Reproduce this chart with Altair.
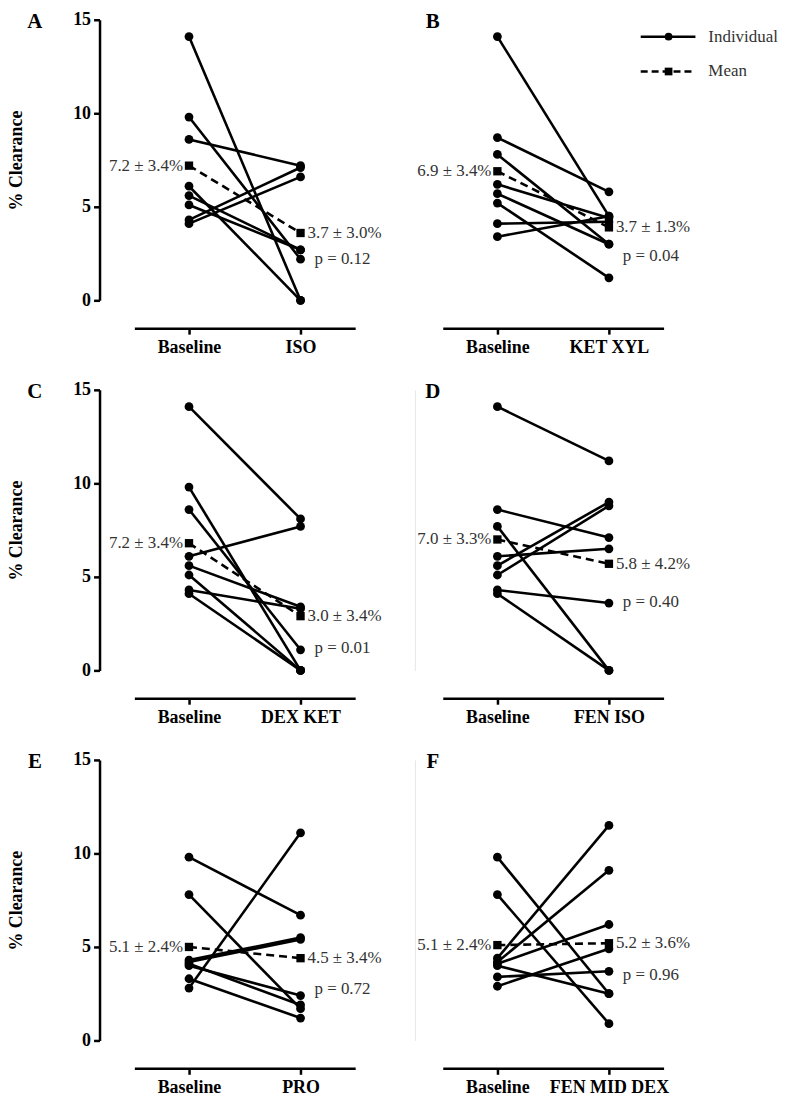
import altair as alt
import pandas as pd

panel_letters = ["A", "B", "C", "D", "E", "F"]
post_names = ["ISO", "KET XYL", "DEX KET", "FEN ISO", "PRO", "FEN MID DEX"]

base_A = [14.1, 9.8, 8.6, 6.1, 5.6, 5.1, 4.3, 4.1]
post_A = [0.0, 2.2, 7.2, 0.0, 2.7, 2.7, 7.1, 6.6]
base_B = [14.1, 8.7, 7.8, 6.2, 5.7, 5.2, 4.1, 3.4]
post_B = [4.5, 5.8, 3.0, 4.4, 3.0, 1.2, 4.2, 4.5]
base_C = [14.1, 9.8, 8.6, 6.1, 5.6, 5.1, 4.3, 4.1]
post_C = [8.1, 0.0, 1.1, 7.7, 3.4, 0.0, 3.3, 0.0]
base_D = [14.1, 8.6, 7.7, 6.1, 5.6, 5.1, 4.3, 4.1]
post_D = [11.2, 7.1, 0.0, 6.5, 9.0, 8.8, 3.6, 0.0]
base_E = [9.8, 7.8, 4.3, 4.2, 4.1, 4.0, 3.3, 2.8]
post_E = [6.7, 1.7, 5.5, 5.4, 1.9, 2.4, 1.2, 11.1]
base_F = [9.8, 7.8, 4.4, 4.2, 4.1, 4.0, 3.4, 2.9]
post_F = [2.5, 0.9, 11.5, 9.1, 6.2, 2.5, 3.7, 4.9]

bases = [base_A, base_B, base_C, base_D, base_E, base_F]
posts = [post_A, post_B, post_C, post_D, post_E, post_F]

mean_pre = [7.2, 6.9, 6.8, 7.0, 5.0, 5.1]
mean_post = [3.6, 3.9, 2.9, 5.7, 4.4, 5.2]
pre_labels = ["7.2 ± 3.4%", "6.9 ± 3.4%", "7.2 ± 3.4%", "7.0 ± 3.3%", "5.1 ± 2.4%", "5.1 ± 2.4%"]
post_labels = ["3.7 ± 3.0%", "3.7 ± 1.3%", "3.0 ± 3.4%", "5.8 ± 4.2%", "4.5 ± 3.4%", "5.2 ± 3.6%"]
p_labels = ["p = 0.12", "p = 0.04", "p = 0.01", "p = 0.40", "p = 0.72", "p = 0.96"]
y_ticks = [0, 5, 10, 15]
legend_labels = ["Individual", "Mean"]

SERIF = "Liberation Serif"
W, H = 222, 282
p_dy = [26, 29, 32, 38, 31, 32]


def panel(i):
    pname = post_names[i]
    rows = []
    for s, (b, p) in enumerate(zip(bases[i], posts[i])):
        rows.append({"subj": s, "cond": "Baseline", "v": b})
        rows.append({"subj": s, "cond": pname, "v": p})
    ind = pd.DataFrame(rows)
    mean = pd.DataFrame([
        {"cond": "Baseline", "v": mean_pre[i], "lab": pre_labels[i], "p": ""},
        {"cond": pname, "v": mean_post[i], "lab": post_labels[i], "p": p_labels[i]},
    ])

    xaxis = alt.Axis(title=None, offset=28, domainWidth=2.5, domainColor="black",
                     tickWidth=2.5, tickSize=6, tickColor="black", labelAngle=0,
                     labelFont=SERIF, labelFontSize=18, labelFontWeight="bold",
                     labelColor="black", labelPadding=4, grid=False)
    if i % 2 == 0:
        yaxis = alt.Axis(values=y_ticks, offset=35, domainWidth=2.5, domainColor="black",
                         tickWidth=2.5, tickSize=6, tickColor="black",
                         labelFont=SERIF, labelFontSize=18, labelFontWeight="bold",
                         labelColor="black", labelPadding=3, grid=False,
                         title="% Clearance", titleFont=SERIF, titleFontSize=18,
                         titleFontWeight="bold", titleColor="black", titlePadding=47)
    elif i == 1:
        yaxis = None
    else:
        yaxis = alt.Axis(labels=False, ticks=False, title=None, offset=28,
                         domainColor="#e6e6e6", domainWidth=1, grid=False)

    xenc = alt.X("cond:N", sort=["Baseline", pname],
                 scale=alt.Scale(type="point", padding=0.49), axis=xaxis)
    yenc = alt.Y("v:Q", scale=alt.Scale(domain=[0, 15], nice=False), axis=yaxis)

    lines = alt.Chart(ind).mark_line(color="black", strokeWidth=2.6).encode(
        x=xenc, y=yenc, detail="subj:N")
    pts = alt.Chart(ind).mark_point(filled=True, shape="circle", size=78,
                                    color="black", opacity=1).encode(x=xenc, y=yenc)
    mline = alt.Chart(mean).mark_line(color="black", strokeWidth=2.6,
                                      strokeDash=[8, 5]).encode(x=xenc, y=yenc)
    msq = alt.Chart(mean).mark_point(filled=True, shape="square", size=70,
                                     color="black", opacity=1).encode(x=xenc, y=yenc)
    pre_t = alt.Chart(mean).transform_filter(alt.datum.cond == "Baseline").mark_text(
        align="right", baseline="middle", dx=-6, font=SERIF, fontSize=17,
        color="#333333").encode(x=xenc, y=yenc, text="lab:N")
    post_t = alt.Chart(mean).transform_filter(alt.datum.cond != "Baseline").mark_text(
        align="left", baseline="middle", dx=7, font=SERIF, fontSize=17,
        color="#333333").encode(x=xenc, y=yenc, text="lab:N")
    p_t = alt.Chart(mean).transform_filter(alt.datum.cond != "Baseline").mark_text(
        align="left", baseline="middle", dx=14, dy=p_dy[i], font=SERIF, fontSize=17,
        color="#333333").encode(x=xenc, y=yenc, text="p:N")
    one = pd.DataFrame({"k": [0]})
    letter_x = -100 if i % 2 == 0 else -10
    letter = alt.Chart(one).mark_text(
        text=panel_letters[i], align="center", baseline="middle", font=SERIF,
        fontSize=21, fontWeight="bold", color="black").encode(
        x=alt.value(letter_x), y=alt.value(2))

    layers = [lines, pts, mline, msq, pre_t, post_t, p_t, letter]

    if i == 1:
        leg = pd.DataFrame({"lab": legend_labels, "row": [0, 1]})
        l1 = alt.Chart(leg).transform_filter(alt.datum.row == 0).mark_rule(
            color="black", strokeWidth=2.5).encode(
            x=alt.value(199), x2=alt.value(254), y=alt.value(17))
        l2 = alt.Chart(leg).transform_filter(alt.datum.row == 1).mark_rule(
            color="black", strokeWidth=2.5, strokeDash=[7, 4]).encode(
            x=alt.value(199), x2=alt.value(254), y=alt.value(52))
        c1 = alt.Chart(leg).transform_filter(alt.datum.row == 0).mark_point(
            filled=True, shape="circle", size=60, color="black", opacity=1).encode(
            x=alt.value(227), y=alt.value(17))
        c2 = alt.Chart(leg).transform_filter(alt.datum.row == 1).mark_point(
            filled=True, shape="square", size=60, color="black", opacity=1).encode(
            x=alt.value(227), y=alt.value(52))
        t1 = alt.Chart(leg).transform_filter(alt.datum.row == 0).mark_text(
            align="left", baseline="middle", font=SERIF, fontSize=17,
            color="#333333").encode(x=alt.value(267), y=alt.value(17), text="lab:N")
        t2 = alt.Chart(leg).transform_filter(alt.datum.row == 1).mark_text(
            align="left", baseline="middle", font=SERIF, fontSize=17,
            color="#333333").encode(x=alt.value(267), y=alt.value(52), text="lab:N")
        layers += [l1, l2, c1, c2, t1, t2]

    return alt.layer(*layers).properties(width=W, height=H)


chart = alt.concat(*[panel(i) for i in range(6)], columns=2,
                   spacing={"row": 90, "column": 88}, bounds="flush").properties(
    padding={"left": 0, "top": 0, "right": 0, "bottom": 0}
).configure_view(stroke=None)

chart.save("out.html", embed_options={"renderer": "svg", "actions": False})
